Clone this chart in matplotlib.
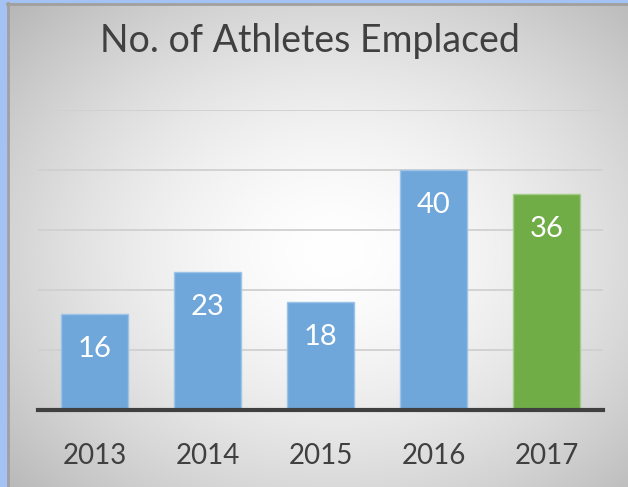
import numpy as np
import matplotlib
matplotlib.use("Agg")
import matplotlib.pyplot as plt
from matplotlib.patches import Rectangle

years = ["2013", "2014", "2015", "2016", "2017"]
athletes = [16, 23, 18, 40, 36]
bar_colors = ["#6FA7DA", "#6FA7DA", "#6FA7DA", "#6FA7DA", "#70AD47"]
edge_colors = ["#9CC3E8", "#9CC3E8", "#9CC3E8", "#9CC3E8", "#A3CC88"]

W, H = 628, 487
fig = plt.figure(figsize=(W / 100, H / 100), dpi=100)
plt.rcParams['font.family'] = ['Lato', 'DejaVu Sans']

# background: blue strip + gradient chart area
bg = fig.add_axes([0, 0, 1, 1])
bg.set_xlim(0, W); bg.set_ylim(H, 0); bg.axis('off')
bg.add_patch(Rectangle((0, 0), W, H, color="#A4C2F4", zorder=0))
x0, y0 = 7, 3
yy, xx = np.mgrid[0:H, 0:W]
cx, cy = 330, 250
r = np.sqrt(((xx - cx) / 420.0) ** 2 + ((yy - cy) / 330.0) ** 2)
val = 1.0 - 0.25 * np.clip(r, 0, 1.2) ** 1.6
img = np.dstack([val, val, val])
bg.imshow(img, extent=(x0, W, H, y0), zorder=1, aspect='auto')
bg.plot([x0 + 1, x0 + 1], [y0, H], color="#A0A0A0", lw=2, zorder=2)
bg.plot([x0, W], [y0 + 1, y0 + 1], color="#A0A0A0", lw=2, zorder=2)
bg.set_xlim(0, W); bg.set_ylim(H, 0)

# main axes: x 38..603, y 110..410
ax = fig.add_axes([38 / W, 1 - 410 / H, (603 - 38) / W, 300 / H])
ax.patch.set_alpha(0)
x = np.arange(len(years))
bars = ax.bar(x, athletes, width=0.6, color=bar_colors, edgecolor=edge_colors,
              linewidth=1, zorder=3)
ax.set_xlim(-0.5, len(years) - 0.5)
ax.set_ylim(0, 50)
ax.set_yticks([10, 20, 30, 40, 50])
ax.yaxis.grid(True, color="#D0D0D0", lw=1.3, zorder=0)
ax.set_axisbelow(True)
ax.tick_params(axis='y', left=False, labelleft=False)
ax.tick_params(axis='x', bottom=False, labelsize=20, labelcolor="#404040", pad=20)
ax.set_xticks(x)
ax.set_xticklabels(years)
for s in ['top', 'right', 'left']:
    ax.spines[s].set_visible(False)
ax.spines['bottom'].set_color("#404040")
ax.spines['bottom'].set_linewidth(3)
ax.spines['bottom'].set_zorder(4)

for xi, v in zip(x, athletes):
    ax.annotate(str(v), (xi, v), xytext=(0, -25), textcoords='offset points',
                ha='center', va='center', color='white', fontsize=21, zorder=5)

fig.text(310 / W, 1 - 41 / H, "No. of Athletes Emplaced", ha='center', va='center',
         fontsize=27, color="#404040")

fig.savefig("out.png", dpi=100)
